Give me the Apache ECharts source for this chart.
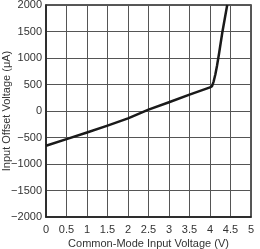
<!DOCTYPE html>
<html><head><meta charset="utf-8">
<script src="https://cdn.jsdelivr.net/npm/echarts@6/dist/echarts.min.js"></script>
<style>html,body{margin:0;padding:0;background:#fff}#c{width:260px;height:249px}</style>
</head><body><div id="c"></div>
<script>
const vcm = [0, 0.5, 1, 1.5, 2, 2.5, 3, 3.5, 4, 4.05, 4.09, 4.13, 4.17, 4.22, 4.3, 4.36, 4.42];
const vos = [-655, -530, -405, -275, -140, 25, 165, 310, 445, 470, 560, 690, 850, 1080, 1480, 1740, 2000];
const xTitle = 'Common-Mode Input Voltage (V)';
const yTitle = 'Input Offset Voltage (μA)';
const fmt = v => String(v).replace('-', '\u2212');
const chart = echarts.init(document.getElementById('c'), null, {renderer: 'canvas'});
chart.setOption({
  animation: false,
  grid: {left: 46, right: 9, top: 5, bottom: 32, show: true, borderColor: '#222', borderWidth: 1.5, containLabel: false, outerBoundsMode: 'none'},
  xAxis: {
    type: 'value', min: 0, max: 5, interval: 0.5,
    name: xTitle, nameLocation: 'middle', nameGap: 21, nameMoveOverlap: false,
    nameTextStyle: {fontFamily: 'Liberation Sans', fontSize: 11, color: '#333'},
    axisLine: {onZero: false, lineStyle: {color: '#222', width: 1.5}},
    axisTick: {show: false},
    axisLabel: {fontFamily: 'Liberation Sans', fontSize: 11, color: '#333', margin: 7, formatter: fmt},
    splitLine: {lineStyle: {color: '#555', width: 1}}
  },
  yAxis: {
    type: 'value', min: -2000, max: 2000, interval: 500,
    name: yTitle, nameLocation: 'middle', nameGap: 34, nameMoveOverlap: false,
    nameTextStyle: {fontFamily: 'Liberation Sans', fontSize: 11, color: '#333'},
    axisLine: {onZero: false, lineStyle: {color: '#222', width: 1.5}},
    axisTick: {show: false},
    axisLabel: {fontFamily: 'Liberation Sans', fontSize: 11, color: '#333', margin: 4, formatter: fmt},
    splitLine: {lineStyle: {color: '#555', width: 1}}
  },
  series: [{
    type: 'line', data: vcm.map((x, i) => [x, vos[i]]),
    showSymbol: false, smooth: false, lineStyle: {color: '#1a1a1a', width: 2.5, join: 'round'}
  }]
});
</script></body></html>
